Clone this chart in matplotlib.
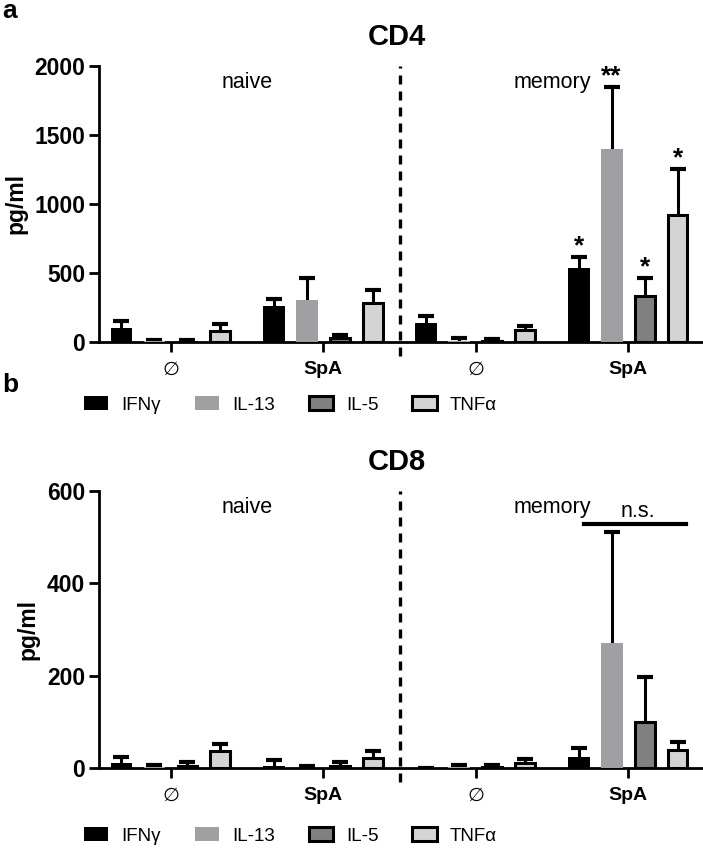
import numpy as np
import matplotlib as mpl
mpl.use('Agg')
import matplotlib.pyplot as plt
from matplotlib.patches import Patch

plt.rcParams['font.family'] = ['Liberation Sans', 'DejaVu Sans']

cytokines = ['IFN\u03b3', 'IL-13', 'IL-5', 'TNF\u03b1']
groups = ['\u2205', 'SpA', '\u2205', 'SpA']

# CD4 means / upper SEM (pg/ml), groups: naive-0, naive-SpA, memory-0, memory-SpA
cd4_mean = np.array([[100, 261, 140, 534],
                     [5, 302, 10, 1398],
                     [3, 27, 5, 333],
                     [82, 280, 87, 918]])
cd4_err = np.array([[50, 48, 48, 84],
                    [12, 164, 20, 447],
                    [8, 23, 14, 128],
                    [48, 97, 31, 333]])
cd4_stars = [['', '', '', '*'], ['', '', '', '**'], ['', '', '', '*'], ['', '', '', '*']]

# CD8
cd8_mean = np.array([[10, 5, 0, 24],
                     [2, 1, 2, 270],
                     [5, 5, 2, 100],
                     [36, 22, 11, 38]])
cd8_err = np.array([[14, 12, 0, 19],
                    [4, 3, 5, 241],
                    [7, 7, 5, 98],
                    [16, 14, 9, 19]])

colors = ['#000000', '#a0a0a4', '#808080', '#d4d4d4']
edges = [False, False, True, True]

gap = 4.62
xc = np.arange(4) * gap


def panel(ax, mean, err, ymax, ystep, stars=None):
    for k in range(4):
        xs = xc + (k - 1.5)
        if edges[k]:
            ax.bar(xs, mean[k], width=0.6, color=colors[k], edgecolor='black', linewidth=2.2, zorder=3)
        else:
            ax.bar(xs, mean[k], width=0.66, color=colors[k], linewidth=0, zorder=3)
        eb = ax.errorbar(xs, mean[k], yerr=[np.zeros(4), err[k]], fmt='none', ecolor='black',
                         elinewidth=2.2, capsize=6, capthick=3, zorder=2)
        eb[1][0].set_visible(False)  # no lower cap
        if stars is not None:
            for g in range(4):
                if stars[k][g]:
                    ax.text(xs[g], mean[k][g] + err[k][g] - ymax * 0.005, stars[k][g], ha='center', va='bottom',
                            fontsize=19, fontweight='bold')
    ax.set_xlim(-2.18, xc[-1] + 2.27)
    ax.set_ylim(0, ymax)
    ax.set_yticks(np.arange(0, ymax + 1, ystep))
    ax.set_xticks(xc)
    ax.set_xticklabels(groups)
    for lab, w in zip(ax.get_xticklabels(), ['normal', 'bold', 'normal', 'bold']):
        lab.set_fontweight(w)
        lab.set_fontsize(14)
    for lab in ax.get_yticklabels():
        lab.set_fontweight('bold')
        lab.set_fontsize(16.5)
    ax.tick_params(width=2, length=7, pad=3)
    ax.tick_params(axis='x', pad=7)
    for s in ['top', 'right']:
        ax.spines[s].set_visible(False)
    for s in ['left', 'bottom']:
        ax.spines[s].set_linewidth(2)
    ax.set_ylabel('pg/ml', fontsize=16.5, fontweight='bold', labelpad=5)
    ax.axvline((xc[1] + xc[2]) / 2, ymin=-0.05, ymax=1.0, color='black', lw=2.4,
               linestyle=(0, (2.7, 2.1)), clip_on=False, zorder=4)
    ax.text((xc[0] + xc[1]) / 2, ymax * 0.94, 'naive', ha='center', va='center', fontsize=15.5)
    ax.text((xc[2] + xc[3]) / 2, ymax * 0.94, 'memory', ha='center', va='center', fontsize=15.5)


fig = plt.figure(figsize=(7.03, 8.49), dpi=100)
ax1 = fig.add_axes([99 / 703, 507 / 849, 604 / 703, 276 / 849])
ax2 = fig.add_axes([99 / 703, 81 / 849, 604 / 703, 277 / 849])

panel(ax1, cd4_mean, cd4_err, 2000, 500, cd4_stars)
panel(ax2, cd8_mean, cd8_err, 600, 200)

# n.s. bracket over CD8 memory SpA
xs4 = xc[3] + np.array([-1.5, 1.5])
ax2.plot([xs4[0] + 0.15, xs4[1] + 0.25], [528, 528], color='black', lw=3, clip_on=False)
ax2.text((xs4[0] + xs4[1]) / 2 + 0.3, 532, 'n.s.', ha='center', va='bottom', fontsize=15.5)

fig.text(397 / 703, 1 - 37 / 849, 'CD4', ha='center', va='center', fontsize=21, fontweight='bold')
fig.text(397 / 703, 1 - 462 / 849, 'CD8', ha='center', va='center', fontsize=21, fontweight='bold')
fig.text(2 / 703, 1 - 11 / 849, 'a', ha='left', va='center', fontsize=19, fontweight='bold')
fig.text(2 / 703, 1 - 385 / 849, 'b', ha='left', va='center', fontsize=19, fontweight='bold')

handles = [Patch(facecolor=colors[k], edgecolor='black' if edges[k] else colors[k],
                 linewidth=2.2 if edges[k] else 0) for k in range(4)]
for ax, ytop in [(ax1, 405), (ax2, 836)]:
    fig.legend(handles, cytokines, loc='center left', bbox_to_anchor=(67 / 703, 1 - ytop / 849),
               ncol=4, frameon=False, fontsize=13.5, handlelength=1.3, handleheight=0.7,
               handletextpad=0.7, columnspacing=1.8)

fig.savefig('out.png', dpi=100)
